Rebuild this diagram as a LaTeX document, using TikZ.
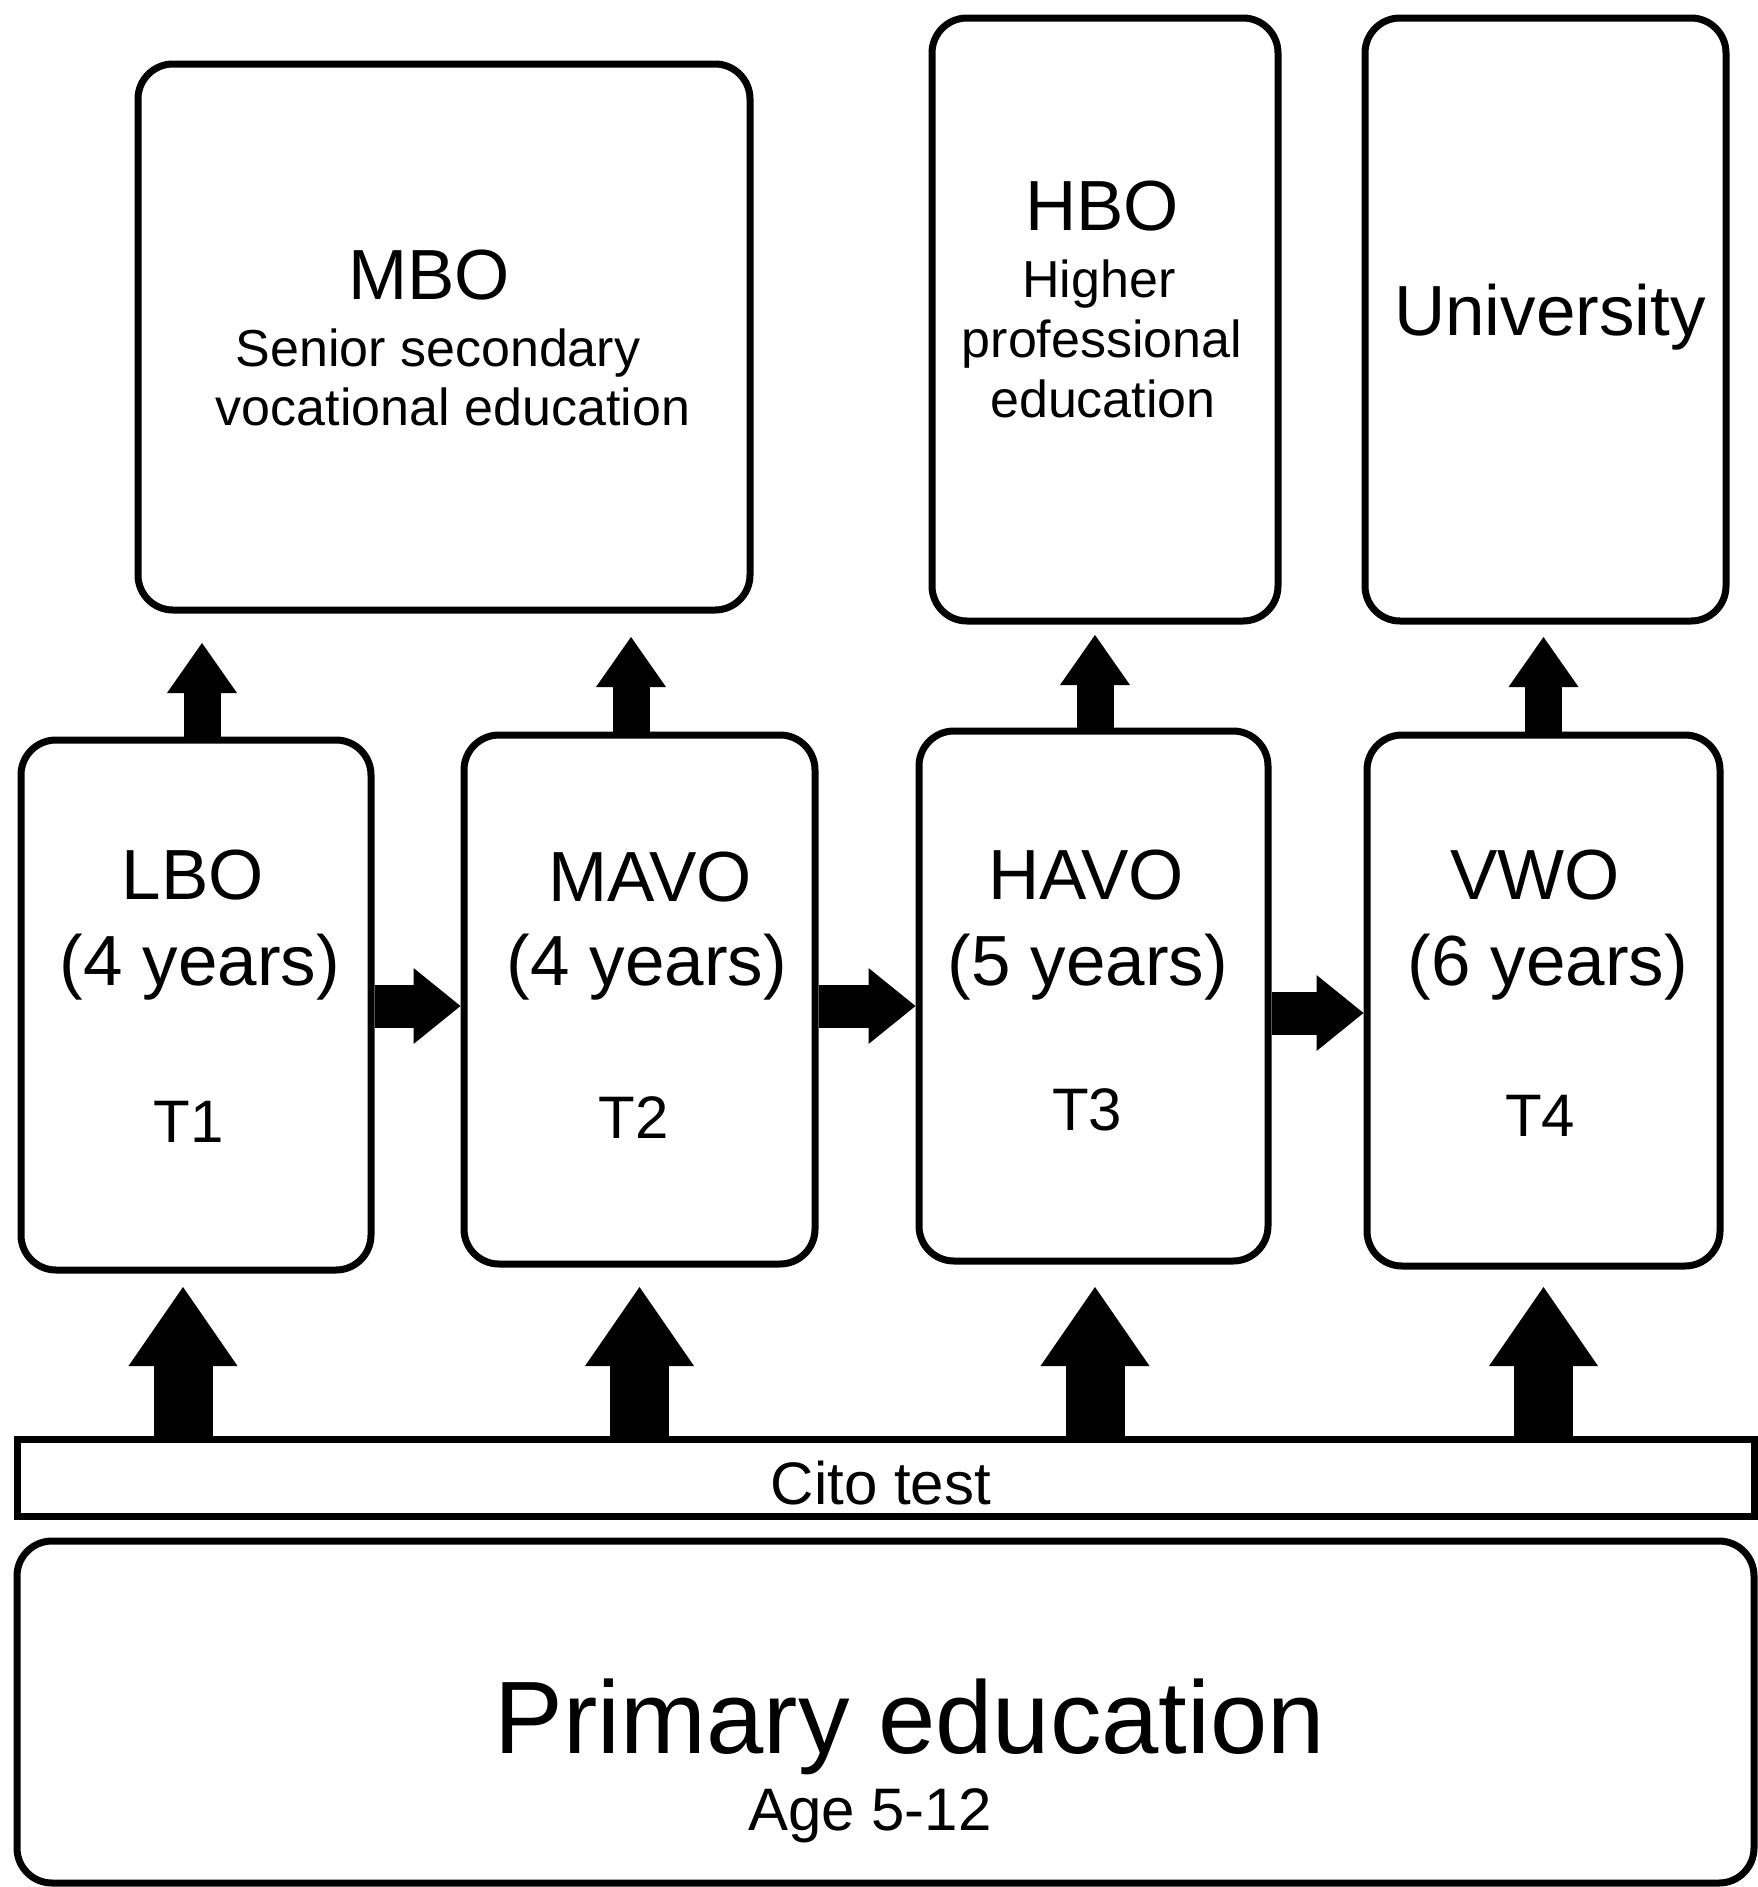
\documentclass[tikz,border=0pt]{standalone}
\usepackage{fontspec}
\setmainfont{Liberation Sans}
\usetikzlibrary{arrows.meta}
\tikzset{
    line join=round,
    schoolbox/.style={draw, line width=7pt, rounded corners=35pt, inner sep=0pt},
    testbar/.style={draw, line width=7pt, inner sep=0pt},
    ttl/.style={anchor=base, inner sep=0pt, font=\fontsize{71}{80}\selectfont},
    sub/.style={anchor=base, inner sep=0pt, font=\fontsize{52}{60}\selectfont},
    tcode/.style={anchor=base, inner sep=0pt, font=\fontsize{60}{70}\selectfont},
    uparrow/.style={line width=37pt, -{Triangle[width=70pt,length=50pt,line width=0pt]}},
    sidearrow/.style={line width=43pt, -{Triangle[width=76pt,length=47pt,line width=0pt]}},
    citoarrow/.style={line width=59pt, -{Triangle[width=109pt,length=79pt,line width=0pt]}},
}
\begin{document}
\begin{tikzpicture}[x=1pt,y=-1pt]
    \useasboundingbox (0,0) rectangle (1757,1887);

    % higher education
    \node[schoolbox, minimum width=612, minimum height=546] (MBO) at (444,337) {};
    \node[schoolbox, minimum width=346, minimum height=603] (HBO) at (1105,319.5) {};
    \node[schoolbox, minimum width=361, minimum height=603] (UNI) at (1545.5,319.5) {};

    \node[ttl] (MBOname) at (429,299) {MBO};
    \node[sub] (MBOsub1) at (438,366) {Senior secondary};
    \node[sub] (MBOsub2) at (453,425) {vocational education};
    \node[ttl] (HBOname) at (1102,230) {HBO};
    \node[sub] (HBOsub1) at (1099,297) {Higher};
    \node[sub] (HBOsub2) at (1102,357) {professional};
    \node[sub] (HBOsub3) at (1103,417) {education};
    \node[ttl] (UNIname) at (1550,335) {University};

    % secondary education
    \node[schoolbox, minimum width=350, minimum height=530] (LBO) at (196,1005) {};
    \node[schoolbox, minimum width=351, minimum height=529] (MAVO) at (639.5,999.5) {};
    \node[schoolbox, minimum width=349, minimum height=530] (HAVO) at (1093.5,996) {};
    \node[schoolbox, minimum width=353, minimum height=531] (VWO) at (1543.5,1000.5) {};

    \node[ttl] (LBOname) at (193,899) {LBO};
    \node[ttl] (LBOyears) at (200,985) {(4 years)};
    \node[tcode] (LBOt) at (189,1142) {T1};
    \node[ttl] (MAVOname) at (650,901) {MAVO};
    \node[ttl] (MAVOyears) at (647,985) {(4 years)};
    \node[tcode] (MAVOt) at (634,1138) {T2};
    \node[ttl] (HAVOname) at (1086,899) {HAVO};
    \node[ttl] (HAVOyears) at (1088,985) {(5 years)};
    \node[tcode] (HAVOt) at (1087,1130) {T3};
    \node[ttl] (VWOname) at (1535,899) {VWO};
    \node[ttl] (VWOyears) at (1548,985) {(6 years)};
    \node[tcode] (VWOt) at (1540,1136) {T4};

    % primary education
    \node[testbar, minimum width=1737, minimum height=77] (CITO) at (885.5,1477.5) {};
    \node[schoolbox, minimum width=1737, minimum height=342] (PRIM) at (885.5,1712) {};
    \node[tcode] (CITOname) at (881,1504) {Cito test};
    \node[anchor=base, inner sep=0pt, font=\fontsize{103}{110}\selectfont] (PRIMname) at (910,1753) {Primary education};
    \node[tcode] (PRIMage) at (870,1830) {Age 5-12};

    \draw[uparrow, shorten >=29.5pt] ([xshift=6pt]LBO.north) -- ([xshift=6pt]LBO.north |- MBO.south);
    \draw[uparrow, shorten >=23.5pt] ([xshift=-8.5pt]MAVO.north) -- ([xshift=-8.5pt]MAVO.north |- MBO.south);
    \draw[uparrow, shorten >=10.5pt] ([xshift=1.5pt]HAVO.north) -- ([xshift=1.5pt]HAVO.north |- HBO.south);
    \draw[uparrow, shorten >=12.5pt] (VWO.north) -- (VWO.north |- UNI.south);

    \draw[sidearrow] ([yshift=-1pt]LBO.east) -- ([yshift=-1pt]LBO.east -| MAVO.west);
    \draw[sidearrow] ([yshift=-6.5pt]MAVO.east) -- ([yshift=-6.5pt]MAVO.east -| HAVO.west);
    \draw[sidearrow] ([yshift=-17pt]HAVO.east) -- ([yshift=-17pt]HAVO.east -| VWO.west);

    \draw[citoarrow, shorten >=13.5pt] ([xshift=-13pt]LBO.south |- CITO.north) -- ([xshift=-13pt]LBO.south);
    \draw[citoarrow, shorten >=19.5pt] (MAVO.south |- CITO.north) -- (MAVO.south);
    \draw[citoarrow, shorten >=22.5pt] ([xshift=1.5pt]HAVO.south |- CITO.north) -- ([xshift=1.5pt]HAVO.south);
    \draw[citoarrow, shorten >=17.5pt] (VWO.south |- CITO.north) -- (VWO.south);
\end{tikzpicture}
\end{document}
